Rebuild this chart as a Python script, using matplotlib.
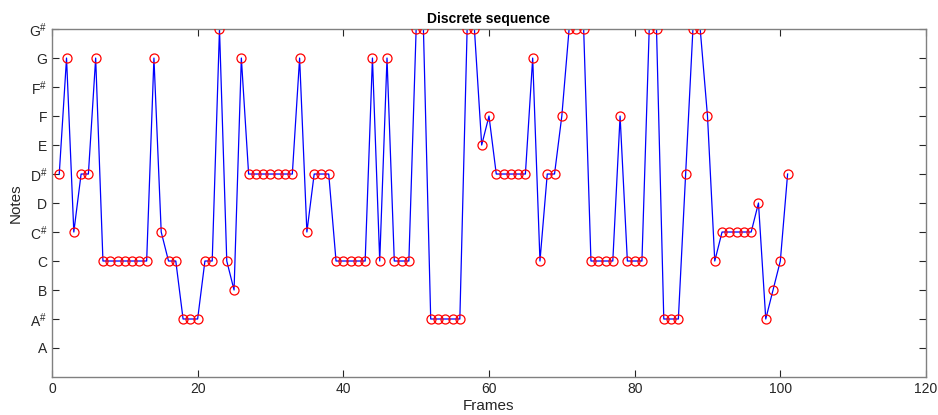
import numpy as np
import matplotlib
matplotlib.use('Agg')
import matplotlib.pyplot as plt

# note levels: A=1 ... G#=12
note_names = ['A', 'A$^{\\#}$', 'B', 'C', 'C$^{\\#}$', 'D', 'D$^{\\#}$', 'E',
              'F', 'F$^{\\#}$', 'G', 'G$^{\\#}$']
note_levels = list(range(1, 13))

# note level per frame (frames 1..101)
notes = [7, 11, 5, 7, 7, 11, 4, 4, 4, 4, 4, 4, 4, 11, 5, 4, 4, 2, 2, 2,
         4, 4, 12, 4, 3, 11, 7, 7, 7, 7, 7, 7, 7, 11, 5, 7, 7, 7, 4, 4,
         4, 4, 4, 11, 4, 11, 4, 4, 4, 12, 12, 2, 2, 2, 2, 2, 12, 12, 8, 9,
         7, 7, 7, 7, 7, 11, 4, 7, 7, 9, 12, 12, 12, 4, 4, 4, 4, 9, 4, 4,
         4, 12, 12, 2, 2, 2, 7, 12, 12, 9, 4, 5, 5, 5, 5, 5, 6, 2, 3, 4,
         7]
frames = np.arange(1, len(notes) + 1)

x_ticks = [0, 20, 40, 60, 80, 100, 120]

plt.rcParams['font.family'] = ['Liberation Sans', 'DejaVu Sans']
plt.rcParams['mathtext.fontset'] = 'custom'
plt.rcParams['mathtext.rm'] = 'Liberation Sans'

fig = plt.figure(figsize=(9.38, 4.15), dpi=100)
ax = fig.add_axes([0.0554, 0.0916, 0.9318, 0.8384])

ax.plot(frames, notes, color='blue', linewidth=0.9, zorder=2)
ax.plot(frames, notes, 'o', markerfacecolor='none', markeredgecolor='red',
        markersize=6.5, markeredgewidth=0.9, zorder=3)

ax.set_xlim(0, 120)
ax.set_ylim(0, 12)
ax.set_xticks(x_ticks)
ax.set_yticks(note_levels)
ax.set_yticklabels(note_names)

axis_col = '#262626'
for s in ax.spines.values():
    s.set_color('#808080')
    s.set_linewidth(1.0)
ax.tick_params(direction='in', top=True, right=True, length=5, width=0.8,
               color=axis_col, labelcolor=axis_col, labelsize=10)

ax.set_title('Discrete sequence', fontsize=10, fontweight='bold', pad=4)
ax.set_xlabel('Frames', fontsize=11, color=axis_col, labelpad=2)
ax.set_ylabel('Notes', fontsize=11, color=axis_col, labelpad=4)

fig.savefig('out.png', dpi=100)
